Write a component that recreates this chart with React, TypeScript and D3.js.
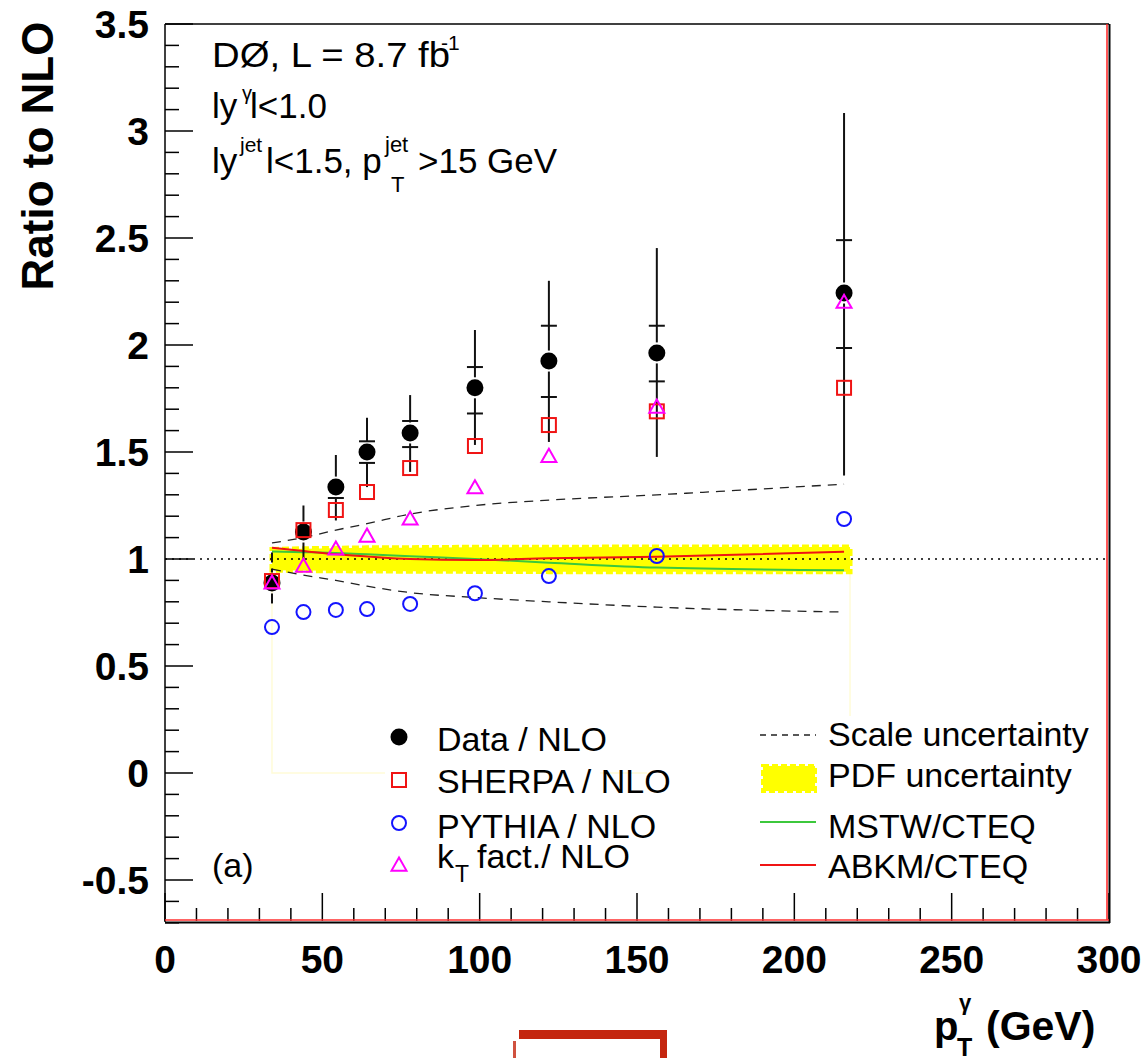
import React from 'react';
import * as d3 from 'd3';

// ---- data ----
const ptX = [34, 44, 54.3, 64.2, 77.9, 98.5, 122, 156.3, 215.8];
const dataY = [0.888, 1.126, 1.336, 1.5, 1.589, 1.8, 1.925, 1.963, 2.243];
const dataInnerLo = [0.86, 1.09, 1.285, 1.449, 1.523, 1.68, 1.757, 1.83, 1.986];
const dataInnerHi = [0.92, 1.165, 1.374, 1.55, 1.645, 1.897, 2.09, 2.09, 2.49];
const dataOuterLo = [0.77, 1.0, 1.18, 1.336, 1.407, 1.533, 1.547, 1.477, 1.39];
const dataOuterHi = [1.03, 1.25, 1.486, 1.66, 1.766, 2.07, 2.3, 2.453, 3.084];
const sherpaY = [0.897, 1.135, 1.229, 1.313, 1.425, 1.528, 1.626, 1.69, 1.8];
const pythiaY = [0.682, 0.752, 0.762, 0.766, 0.79, 0.84, 0.92, 1.014, 1.187];
const ktY = [0.888, 0.967, 1.047, 1.107, 1.187, 1.333, 1.48, 1.71, 2.2];
const scaleUp = [1.075, 1.1, 1.135, 1.165, 1.21, 1.25, 1.275, 1.3, 1.35];
const scaleDn = [0.953, 0.925, 0.9, 0.873, 0.843, 0.82, 0.8, 0.775, 0.752];
const pdfX = [34, 44, 54.3, 64.2, 77.9, 98.5, 122, 156.3, 217.7];
const pdfUp = [1.045, 1.048, 1.05, 1.052, 1.053, 1.055, 1.055, 1.056, 1.056];
const pdfDn = [0.948, 0.946, 0.945, 0.944, 0.943, 0.942, 0.941, 0.94, 0.94];
const mstwY = [1.035, 1.032, 1.028, 1.022, 1.013, 1.0, 0.983, 0.96, 0.947];
const abkmY = [1.053, 1.037, 1.022, 1.012, 1.0, 0.995, 1.003, 1.01, 1.034];
const xTickLabels = [0, 50, 100, 150, 200, 250, 300];
const yTickLabels = [-0.5, 0, 0.5, 1, 1.5, 2, 2.5, 3, 3.5];
const xDomain = [0, 300];
const yDomain = [-0.7, 3.5];

const FONT = '"Liberation Sans", Arial, Helvetica, sans-serif';
const RED = '#f01414';
const BLUE = '#1414ff';
const MAG = '#ff00ff';
const GREEN = '#3cc83c';

export default function App() {
  const x = d3.scaleLinear().domain(xDomain).range([165, 1109]);
  const y = d3.scaleLinear().domain(yDomain).range([922.8, 24]);

  const xMinor = d3.range(0, 301, 10);
  const yMinor = d3.range(-7, 36).map((v) => v / 10);

  const lineGen = (xs: number[], ys: number[], curve = d3.curveMonotoneX) =>
    d3.line<number>().x((_, i) => x(xs[i])).y((v) => y(v)).curve(curve)(ys) || '';

  const pdfArea =
    d3
      .area<number>()
      .x((_, i) => x(pdfX[i]))
      .y0((_, i) => y(pdfDn[i]))
      .y1((v) => y(v))(pdfUp) || '';

  const last = pdfX.length - 1;
  const pdfOutline = `M${x(pdfX[0])},${y(pdfDn[0])}L${x(pdfX[0])},${y(0)}L${x(pdfX[last])},${y(0)}L${x(pdfX[last])},${y(pdfDn[last])}`;

  const R = 8.5;
  const tri = (cx: number, cy: number, s = 7.5) =>
    `M${cx},${cy - s}L${cx + s},${cy + s * 0.75}L${cx - s},${cy + s * 0.75}Z`;

  return (
    <svg
      width={1146}
      height={1058}
      style={{ position: 'absolute', left: 0, top: 0, background: '#fff' }}
      fontFamily={FONT}
    >
      <rect x={0} y={0} width={1146} height={1058} fill="#fff" />

      {/* PDF band outline (faint) and band */}
      <path d={pdfOutline} fill="none" stroke="#fffcd8" strokeWidth={1.5} />
      <path d={pdfArea} fill="#ffff00" stroke="#ffff00" strokeWidth={5} strokeDasharray="7 3" />

      {/* dotted line at 1 */}
      <line x1={x(0)} x2={x(300)} y1={y(1)} y2={y(1)} stroke="#000" strokeWidth={1.5} strokeDasharray="2 5" />

      {/* scale uncertainty */}
      <path d={lineGen(ptX, scaleUp)} fill="none" stroke="#222" strokeWidth={1.3} strokeDasharray="9 7" />
      <path d={lineGen(ptX, scaleDn)} fill="none" stroke="#222" strokeWidth={1.3} strokeDasharray="9 7" />

      {/* PDF set ratios */}
      <path d={lineGen(ptX, mstwY)} fill="none" stroke={GREEN} strokeWidth={2} />
      <path d={lineGen(ptX, abkmY)} fill="none" stroke={RED} strokeWidth={2} />

      {/* data error bars */}
      {ptX.map((px, i) => {
        const cx = x(px);
        const cy = y(dataY[i]);
        const top = y(dataOuterHi[i]);
        const bot = y(dataOuterLo[i]);
        const gap = R + 2;
        const dash = i === 0 ? '10 6' : undefined;
        const ticks = [dataInnerLo[i], dataInnerHi[i]].filter((v) => Math.abs(y(v) - cy) > gap);
        return (
          <g key={'e' + i} stroke="#111" strokeWidth={2}>
            {top < cy - gap && <line x1={cx} x2={cx} y1={top} y2={cy - gap} strokeDasharray={dash} />}
            {bot > cy + gap && <line x1={cx} x2={cx} y1={cy + gap} y2={bot} strokeDasharray={dash} />}
            {ticks.map((v, k) => (
              <line key={k} x1={cx - 8} x2={cx + 8} y1={y(v)} y2={y(v)} />
            ))}
          </g>
        );
      })}

      {/* data points */}
      {ptX.map((px, i) => (
        <circle key={'d' + i} cx={x(px)} cy={y(dataY[i])} r={R} fill="#000" />
      ))}
      {ptX.map((px, i) => (
        <rect
          key={'s' + i}
          x={x(px) - 7}
          y={y(sherpaY[i]) - 7}
          width={14}
          height={14}
          fill="none"
          stroke={RED}
          strokeWidth={2}
        />
      ))}
      {ptX.map((px, i) => (
        <circle key={'p' + i} cx={x(px)} cy={y(pythiaY[i])} r={7} fill="none" stroke={BLUE} strokeWidth={2} />
      ))}
      {ptX.map((px, i) => (
        <path key={'k' + i} d={tri(x(px), y(ktY[i]))} fill="none" stroke={MAG} strokeWidth={2} />
      ))}

      {/* legend boxes */}
      <rect x={385} y={716} width={215} height={172} fill="#fff" />
      <rect x={647} y={716} width={450} height={172} fill="#fff" />

      {/* left legend */}
      <g fontSize={34} fill="#000">
        <circle cx={399} cy={737} r={R} fill="#000" />
        <text x={437} y={751}>Data / NLO</text>
        <rect x={392} y={773} width={14} height={14} fill="none" stroke={RED} strokeWidth={2} />
        <text x={437} y={793}>SHERPA / NLO</text>
        <circle cx={399} cy={823} r={7} fill="none" stroke={BLUE} strokeWidth={2} />
        <text x={437} y={838}>PYTHIA / NLO</text>
        <path d={tri(399, 865)} fill="none" stroke={MAG} strokeWidth={2} />
        <text x={437} y={868}>k</text>
        <text x={455} y={882} fontSize={23}>T</text>
        <text x={477} y={868}>fact./ NLO</text>
      </g>

      {/* right legend */}
      <g fontSize={34} fill="#000">
        <line x1={760} x2={816} y1={735} y2={735} stroke="#222" strokeWidth={1.3} strokeDasharray="6 5" />
        <text x={828} y={746}>Scale uncertainty</text>
        <rect x={763} y={766} width={52} height={25} fill="#ffff00" stroke="#ffff00" strokeWidth={4} strokeDasharray="6 3" />
        <text x={828} y={787}>PDF uncertainty</text>
        <line x1={760} x2={816} y1={822} y2={822} stroke={GREEN} strokeWidth={2} />
        <text x={828} y={838}>MSTW/CTEQ</text>
        <line x1={760} x2={816} y1={865} y2={865} stroke={RED} strokeWidth={2} />
        <text x={828} y={878}>ABKM/CTEQ</text>
      </g>

      <text x={212} y={877} fontSize={34}>(a)</text>

      {/* top-left annotations */}
      <g fontSize={35} fill="#000">
        <text x={212} y={67} textLength={238} lengthAdjust="spacingAndGlyphs">DØ, L = 8.7 fb</text>
        <text x={441} y={50} fontSize={21}>-1</text>

        <text x={212} y={118}>ly</text>
        <text x={242} y={100} fontSize={20}>γ</text>
        <text x={250} y={118}>l&lt;1.0</text>

        <text x={212} y={173}>ly</text>
        <text x={240} y={152} fontSize={21}>jet</text>
        <text x={266} y={173}>l&lt;1.5, p</text>
        <text x={391} y={192} fontSize={22}>T</text>
        <text x={385} y={152} fontSize={22}>jet</text>
        <text x={418} y={173}>&gt;15 GeV</text>
      </g>

      {/* axes ticks */}
      <g stroke="#000" strokeWidth={1.5}>
        {xMinor.map((v) => (
          <line key={'xt' + v} x1={x(v)} x2={x(v)} y1={921} y2={921 - (v % 50 === 0 ? 28 : 13)} />
        ))}
        {yMinor.map((v) => (
          <line
            key={'yt' + v}
            x1={165}
            x2={165 + (Math.round(v * 10) % 5 === 0 ? 28 : 14)}
            y1={y(v)}
            y2={y(v)}
          />
        ))}
      </g>

      {/* frame */}
      <line x1={165} x2={1109} y1={24} y2={24} stroke="#000" strokeWidth={1.5} />
      <line x1={165} x2={165} y1={24} y2={922} stroke="#000" strokeWidth={1.5} />
      <line x1={1107} x2={1107} y1={24} y2={920} stroke="#ff2020" strokeWidth={1.5} />
      <line x1={1109.5} x2={1109.5} y1={24} y2={923} stroke="#000" strokeWidth={2} />
      <line x1={165} x2={1109} y1={920} y2={920} stroke="#ff3030" strokeWidth={1.5} />
      <line x1={165} x2={1110} y1={922.5} y2={922.5} stroke="#000" strokeWidth={2} />

      {/* tick labels */}
      <g fontSize={39} fontWeight="bold" fill="#000">
        {xTickLabels.map((v) => (
          <text key={'xl' + v} x={x(v)} y={973} textAnchor="middle">
            {v}
          </text>
        ))}
        {yTickLabels.map((v) => (
          <text key={'yl' + v} x={149} y={y(v) + 14} textAnchor="end">
            {v}
          </text>
        ))}
      </g>

      {/* axis titles */}
      <text
        transform="translate(53,156) rotate(-90)"
        textAnchor="middle"
        fontSize={44}
        fontWeight="bold"
      >
        Ratio to NLO
      </text>
      <g fontWeight="bold" fill="#000">
        <text x={934} y={1040} fontSize={40}>p</text>
        <text x={957} y={1056} fontSize={25}>T</text>
        <text x={959} y={1010} fontSize={22}>γ</text>
        <text x={986} y={1040} fontSize={41}>(GeV)</text>
      </g>

      {/* red scan artefact at bottom */}
      <g fill="#c4260f">
        <rect x={519} y={1030} width={148} height={9} />
        <rect x={660} y={1030} width={7} height={28} />
        <rect x={513} y={1041} width={3} height={17} opacity={0.8} />
      </g>
    </svg>
  );
}
